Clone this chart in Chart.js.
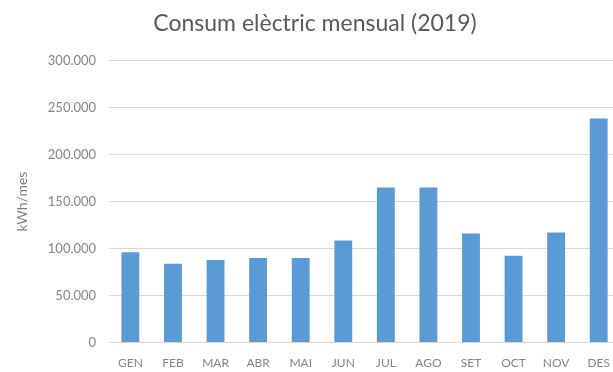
<!DOCTYPE html>
<html>
<head>
<meta charset="utf-8">
<script src="https://cdn.jsdelivr.net/npm/chart.js@4"></script>
<style>
  html, body { margin: 0; padding: 0; background: #fff; overflow: hidden; }
  #wrap { width: 630px; height: 372px; }
</style>
</head>
<body>
<div id="wrap"><canvas id="grafic"></canvas></div>
<script>
// Dades
const mesos = ['GEN', 'FEB', 'MAR', 'ABR', 'MAI', 'JUN', 'JUL', 'AGO', 'SET', 'OCT', 'NOV', 'DES'];
const consum = [96000, 84000, 88000, 90000, 90000, 108500, 165000, 165000, 116000, 92500, 117000, 238500];
const titol = 'Consum elèctric mensual (2019)';
const titolEix = 'kWh/mes';

function formatCat(v) {
    return v.toString().replace(/\B(?=(\d{3})+(?!\d))/g, '.');
}

const ctx = document.getElementById('grafic');
new Chart(ctx, {
    type: 'bar',
    data: {
        labels: mesos,
        datasets: [
            { label: titolEix, data: consum, backgroundColor: '#5B9BD5', barPercentage: 0.84, categoryPercentage: 0.5 }
        ]
    },
    options: {
        responsive: true,
        maintainAspectRatio: false,
        animation: false,
        layout: { padding: { left: 10, right: 10, top: 4, bottom: -3 } },
        scales: {
            x: {
                grid: { display: false },
                border: { display: false },
                ticks: { color: '#858585', font: { family: 'Lato', size: 12 }, padding: 5 }
            },
            y: {
                min: 0,
                max: 300000,
                grid: { color: '#d9d9d9', drawTicks: false },
                border: { display: false },
                ticks: {
                    stepSize: 50000,
                    color: '#858585',
                    font: { family: 'Lato', size: 13 },
                    padding: 13,
                    callback: (v) => formatCat(v)
                },
                title: {
                    display: true,
                    text: titolEix,
                    color: '#7f7f7f',
                    font: { family: 'Lato', size: 14 },
                    padding: 4
                }
            }
        },
        plugins: {
            legend: { display: false },
            tooltip: { enabled: false },
            title: {
                display: true,
                text: titol,
                color: '#595959',
                font: { family: 'Lato', size: 23, weight: 'normal' },
                padding: { top: 6, bottom: 23 }
            }
        }
    }
});
</script>
</body>
</html>
